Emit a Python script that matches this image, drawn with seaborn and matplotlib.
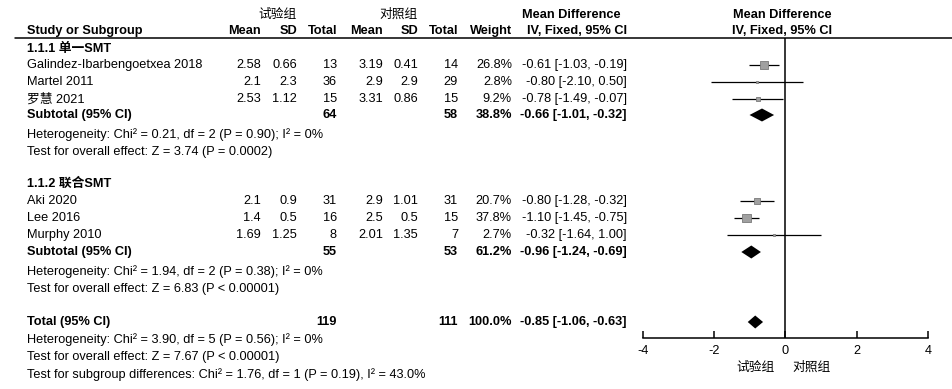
import matplotlib
matplotlib.use("Agg")
import matplotlib.pyplot as plt
import seaborn as sns
import pandas as pd

# ---------------- data ----------------
studies = ["Galindez-Ibarbengoetxea 2018", "Martel 2011", "罗慧 2021",
           "Aki 2020", "Lee 2016", "Murphy 2010"]
groups = ["1.1.1 单一SMT", "1.1.2 联合SMT"]
study_group = [0, 0, 0, 1, 1, 1]
exp_mean = [2.58, 2.1, 2.53, 2.1, 1.4, 1.69]
exp_sd = [0.66, 2.3, 1.12, 0.9, 0.5, 1.25]
exp_n = [13, 36, 15, 31, 16, 8]
ctl_mean = [3.19, 2.9, 3.31, 2.9, 2.5, 2.01]
ctl_sd = [0.41, 2.9, 0.86, 1.01, 0.5, 1.35]
ctl_n = [14, 29, 15, 31, 15, 7]
weight = [26.8, 2.8, 9.2, 20.7, 37.8, 2.7]
md = [-0.61, -0.80, -0.78, -0.80, -1.10, -0.32]
ci_lo = [-1.03, -2.10, -1.49, -1.28, -1.45, -1.64]
ci_hi = [-0.19, 0.50, -0.07, -0.32, -0.75, 1.00]

sum_labels = ["Subtotal (95% CI)", "Subtotal (95% CI)", "Total (95% CI)"]
sum_exp_n = [64, 55, 119]
sum_ctl_n = [58, 53, 111]
sum_weight = [38.8, 61.2, 100.0]
sum_md = [-0.66, -0.96, -0.85]
sum_lo = [-1.01, -1.24, -1.06]
sum_hi = [-0.32, -0.69, -0.63]

stat_lines = [
    ["Heterogeneity: Chi² = 0.21, df = 2 (P = 0.90); I² = 0%",
     "Test for overall effect: Z = 3.74 (P = 0.0002)"],
    ["Heterogeneity: Chi² = 1.94, df = 2 (P = 0.38); I² = 0%",
     "Test for overall effect: Z = 6.83 (P < 0.00001)"],
    ["Heterogeneity: Chi² = 3.90, df = 5 (P = 0.56); I² = 0%",
     "Test for overall effect: Z = 7.67 (P < 0.00001)",
     "Test for subgroup differences: Chi² = 1.76, df = 1 (P = 0.19), I² = 43.0%"],
]
exp_label = "试验组"
ctl_label = "对照组"
x_ticks = [-4, -2, 0, 2, 4]

# ---------------- layout (pixels) ----------------
W, H = 953, 389
study_y = [65, 82, 99, 201, 218, 235]
group_y = [49, 184]
sum_y = [115, 252, 322]
stat_y = [[135, 152], [272, 289], [340, 357, 375]]
head1_y, head2_y = 15, 31
line_y = 38
axis_y = 338

sns.set_theme(style="white")
FONT = ["Liberation Sans", "Noto Sans CJK SC", "DejaVu Sans"]
plt.rcParams["font.family"] = FONT
FS = 9.2

fig = plt.figure(figsize=(W / 100, H / 100), dpi=100)
ax_t = fig.add_axes([0, 0, 1, 1])
ax_t.set_xlim(0, W)
ax_t.set_ylim(H, 0)
ax_t.axis("off")

X0, X1 = 643, 928
ax_f = fig.add_axes([X0 / W, 0, (X1 - X0) / W, 1])
ax_f.patch.set_visible(False)


def txt(x, y, s, ha="left", bold=False, size=FS):
    ax_t.text(x, y, s, ha=ha, va="center", fontsize=size,
              fontweight="bold" if bold else "normal", color="black",
              family=FONT)


# column right edges
c_em, c_esd, c_en = 261, 297, 337
c_cm, c_csd, c_cn = 383, 418, 458
c_w, c_ci = 512, 627
x_lab = 27

# headers
txt(278, head1_y, exp_label, ha="center")
txt(399, head1_y, ctl_label, ha="center")
txt(571, head1_y, "Mean Difference", ha="center", bold=True)
txt(782, head1_y, "Mean Difference", ha="center", bold=True)
txt(x_lab, head2_y, "Study or Subgroup", bold=True)
for x, s in [(c_em, "Mean"), (c_esd, "SD"), (c_en, "Total"),
             (c_cm, "Mean"), (c_csd, "SD"), (c_cn, "Total"), (c_w, "Weight"),
             (c_ci, "IV, Fixed, 95% CI")]:
    txt(x, head2_y, s, ha="right", bold=True)
txt(782, head2_y, "IV, Fixed, 95% CI", ha="center", bold=True)
ax_t.plot([15, W], [line_y, line_y], color="black", lw=1.1)

# groups and studies
for g, gy in enumerate(group_y):
    txt(x_lab, gy, groups[g], bold=True)

for i, s in enumerate(studies):
    y = study_y[i]
    txt(x_lab, y, s)
    txt(c_em, y, f"{exp_mean[i]:g}", ha="right")
    txt(c_esd, y, f"{exp_sd[i]:g}", ha="right")
    txt(c_en, y, f"{exp_n[i]}", ha="right")
    txt(c_cm, y, f"{ctl_mean[i]:g}", ha="right")
    txt(c_csd, y, f"{ctl_sd[i]:g}", ha="right")
    txt(c_cn, y, f"{ctl_n[i]}", ha="right")
    txt(c_w, y, f"{weight[i]:.1f}%", ha="right")
    txt(c_ci, y, f"{md[i]:.2f} [{ci_lo[i]:.2f}, {ci_hi[i]:.2f}]", ha="right")

for k, lab in enumerate(sum_labels):
    y = sum_y[k]
    txt(x_lab, y, lab, bold=True)
    txt(c_en, y, f"{sum_exp_n[k]}", ha="right", bold=True)
    txt(c_cn, y, f"{sum_ctl_n[k]}", ha="right", bold=True)
    txt(c_w, y, f"{sum_weight[k]:.1f}%", ha="right", bold=True)
    txt(c_ci, y, f"{sum_md[k]:.2f} [{sum_lo[k]:.2f}, {sum_hi[k]:.2f}]",
        ha="right", bold=True)
    for j, line in enumerate(stat_lines[k]):
        txt(x_lab, stat_y[k][j], line, size=FS)

# ---------------- forest plot ----------------
df = pd.DataFrame({"md": md, "y": study_y, "w": weight,
                   "lo": ci_lo, "hi": ci_hi})
ax_f.vlines(0, line_y, axis_y, color="black", lw=1.1)
ax_f.hlines(df["y"], df["lo"], df["hi"], color="black", lw=0.9, zorder=2)
sns.scatterplot(data=df, x="md", y="y", size="w", sizes=(0, 44),
                size_norm=(0, 40), marker="s", color="#a0a0a0",
                edgecolor="#7a7a7a", linewidth=0.6, legend=False,
                ax=ax_f, zorder=3, clip_on=False)
for k in range(3):
    y = sum_y[k]
    ax_f.fill([sum_lo[k], sum_md[k], sum_hi[k], sum_md[k]],
              [y, y - 6.5, y, y + 6.5], color="black", lw=0, zorder=4)

ax_f.set_xlim(-4, 4)
ax_f.set_ylim(H, 0)
ax_f.set_xlabel("")
ax_f.set_ylabel("")
for sp in ["left", "right", "top"]:
    ax_f.spines[sp].set_visible(False)
ax_f.spines["bottom"].set_position(("data", axis_y))
ax_f.spines["bottom"].set_bounds(-4, 4)
ax_f.spines["bottom"].set_color("black")
ax_f.spines["bottom"].set_linewidth(1.1)
ax_f.set_yticks([])
ax_f.set_xticks(x_ticks)
ax_f.set_xticklabels([f"{t:g}" for t in x_ticks])
ax_f.tick_params(axis="x", direction="in", length=5, width=1.1,
                 labelsize=FS, pad=5, colors="black", bottom=True)
ax_f.grid(False)

txt(775, 368, exp_label, ha="right")
txt(792, 368, ctl_label, ha="left")

fig.savefig("out.png", dpi=100)
